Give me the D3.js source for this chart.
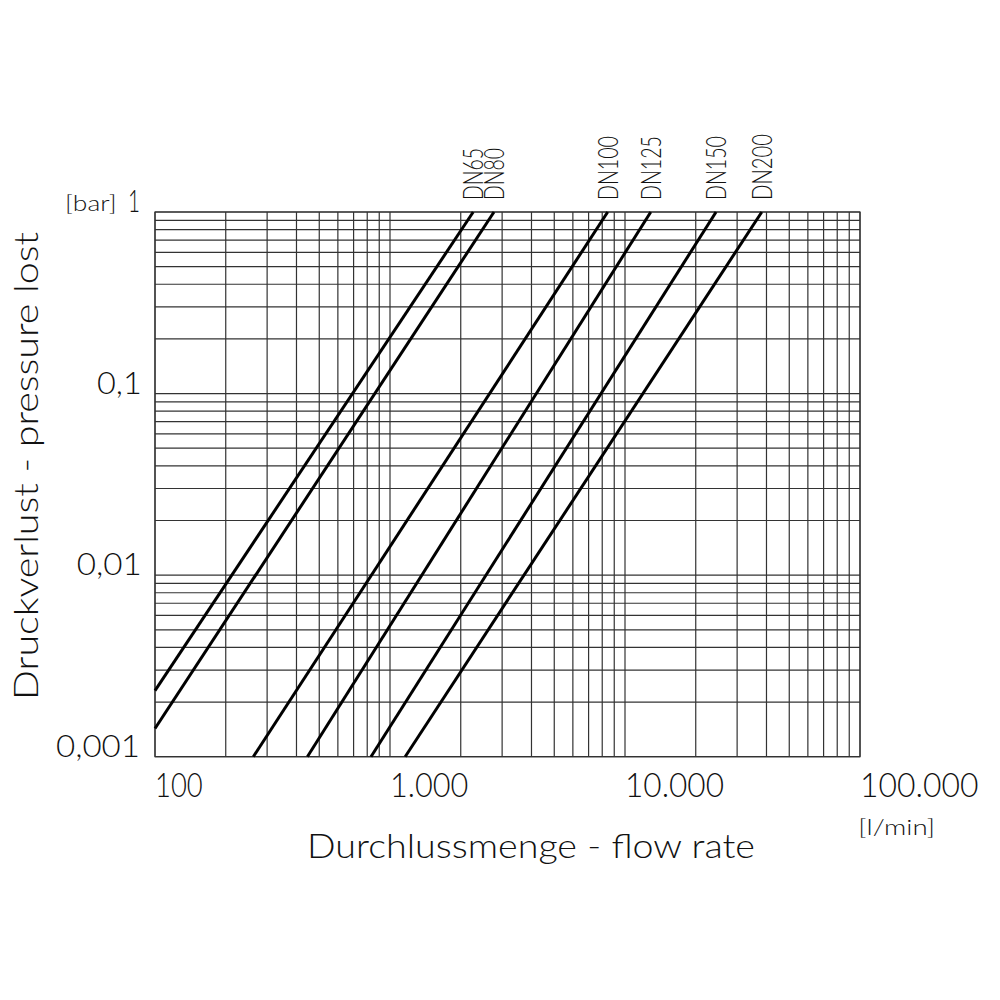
<!DOCTYPE html>
<html>
<head>
<meta charset="utf-8">
<script src="https://cdn.jsdelivr.net/npm/d3@7"></script>
<style>
  html, body { margin: 0; padding: 0; background: #fff; }
  svg { display: block; }
  text { font-family: "Lato", "DejaVu Sans", sans-serif; font-weight: 300; fill: #111; }
</style>
</head>
<body>
<script>
// ---------- data ----------
const xTickValues = [100, 1000, 10000, 100000];
const xTickLabels = ["100", "1.000", "10.000", "100.000"];
const yTickValues = [1, 0.1, 0.01, 0.001];
const yTickLabels = ["1", "0,1", "0,01", "0,001"];

const seriesNames = ["DN65", "DN80", "DN100", "DN125", "DN150", "DN200"];
// flow rate [l/min] at both ends of each straight (log-log) curve
const seriesFlow = [
  [100, 2260],
  [100, 2770],
  [262, 8440],
  [445, 12870],
  [830, 24400],
  [1160, 38200]
];
// pressure loss [bar] at the same ends
const seriesLoss = [
  [0.00231, 1],
  [0.00143, 1],
  [0.001, 1],
  [0.001, 1],
  [0.001, 1],
  [0.001, 1]
];

const xTitle = "Durchlussmenge - flow rate";
const yTitle = "Druckverlust - pressure lost";
const yUnit = "[bar]";
const xUnit = "[l/min]";

// ---------- layout ----------
const W = 1000, H = 1000;
const plot = { left: 155, right: 860, top: 212, bottom: 756.7 };

const svg = d3.select("body").append("svg").attr("width", W).attr("height", H);

const x = d3.scaleLog().domain([100, 100000]).range([plot.left, plot.right]);
const y = d3.scaleLog().domain([0.001, 1]).range([plot.bottom, plot.top]);

// ---------- grid ----------
const gridColor = "#333";
const grid = svg.append("g").attr("stroke", gridColor).attr("stroke-width", 1.2).attr("fill", "none");
grid.selectAll("line.v").data(x.ticks()).enter().append("line")
  .attr("x1", d => x(d)).attr("x2", d => x(d))
  .attr("y1", plot.top).attr("y2", plot.bottom);
grid.selectAll("line.h").data(y.ticks()).enter().append("line")
  .attr("x1", plot.left).attr("x2", plot.right)
  .attr("y1", d => y(d)).attr("y2", d => y(d));
grid.append("rect")
  .attr("x", plot.left).attr("y", plot.top)
  .attr("width", plot.right - plot.left).attr("height", plot.bottom - plot.top);

// ---------- curves ----------
const line = d3.line().x(d => x(d[0])).y(d => y(d[1]));
const curves = seriesNames.map((n, i) => ({
  name: n,
  pts: seriesFlow[i].map((q, j) => [q, seriesLoss[i][j]])
}));
svg.append("g").selectAll("path").data(curves).enter().append("path")
  .attr("d", d => line(d.pts))
  .attr("fill", "none").attr("stroke", "#000").attr("stroke-width", 3);

// ---------- curve labels ----------
const dnLen = { "DN65": 52, "DN80": 52, "DN100": 64, "DN125": 64, "DN150": 64, "DN200": 66 };
svg.append("g").selectAll("text").data(curves).enter().append("text")
  .attr("transform", d => {
    const top = d.pts[d.pts.length - 1];
    return `translate(${x(top[0]) + 10},200) rotate(-90)`;
  })
  .attr("font-size", 27)
  .attr("textLength", d => dnLen[d.name])
  .attr("lengthAdjust", "spacingAndGlyphs")
  .text(d => d.name);

// ---------- x tick labels ----------
const xLabLen = [47.7, 78.3, 99, 118.4];
svg.append("g").selectAll("text").data(xTickValues).enter().append("text")
  .attr("x", d => x(d)).attr("y", 797)
  .attr("font-size", 33)
  .attr("textLength", (d, i) => xLabLen[i])
  .attr("lengthAdjust", "spacingAndGlyphs")
  .text((d, i) => xTickLabels[i]);

// ---------- y tick labels ----------
const yLabLen = [12, 44.7, 65, 84];
const yLabRight = [140, 141.7, 141.7, 140];
svg.append("g").selectAll("text").data(yTickValues).enter().append("text")
  .attr("x", (d, i) => yLabRight[i] - yLabLen[i]).attr("y", d => y(d))
  .attr("font-size", 32)
  .attr("textLength", (d, i) => yLabLen[i])
  .attr("lengthAdjust", "spacingAndGlyphs")
  .text((d, i) => yTickLabels[i]);

// ---------- units ----------
svg.append("text").attr("x", 65).attr("y", 211).attr("font-size", 21)
  .attr("textLength", 51.7).attr("lengthAdjust", "spacingAndGlyphs").text(yUnit);
svg.append("text").attr("x", 858.3).attr("y", 835).attr("font-size", 21)
  .attr("textLength", 76.7).attr("lengthAdjust", "spacingAndGlyphs").text(xUnit);

// ---------- titles ----------
svg.append("text").attr("x", 307).attr("y", 858).attr("font-size", 34)
  .attr("textLength", 448).attr("lengthAdjust", "spacingAndGlyphs").text(xTitle);
svg.append("text").attr("transform", "translate(38,700) rotate(-90)").attr("font-size", 34)
  .attr("textLength", 468).attr("lengthAdjust", "spacingAndGlyphs").text(yTitle);
</script>
</body>
</html>
